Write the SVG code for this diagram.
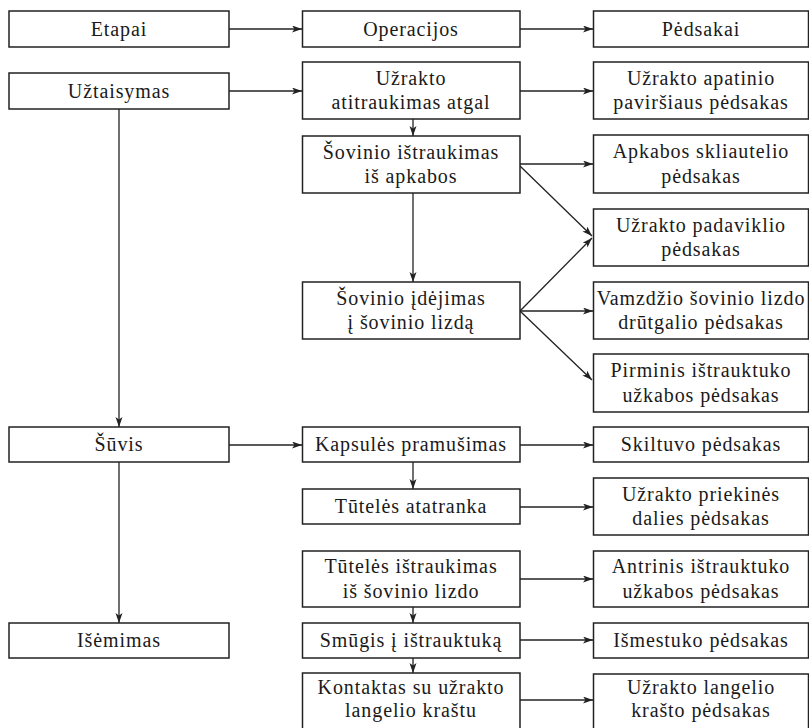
<svg xmlns="http://www.w3.org/2000/svg" width="809" height="728" viewBox="0 0 809 728">
<style>
.b rect{fill:#fff;stroke:#222;stroke-width:1.5}
.b text{font-family:'Liberation Serif','DejaVu Serif',serif;font-size:20px;fill:#1a1a1a;text-anchor:middle;letter-spacing:0.9px}
.c line{stroke:#222;stroke-width:1.3;marker-end:url(#ah)}
</style>
<defs>
<marker id="ah" markerUnits="userSpaceOnUse" markerWidth="11" markerHeight="8" refX="10" refY="3.5" orient="auto">
<path d="M0,0 L10,3.5 L0,7 L2.5,3.5 z" fill="#222"/>
</marker>
</defs>
<rect width="809" height="728" fill="#fff"/>
<g class="c" id="connectors">
<line x1="229" y1="29" x2="302" y2="29"/>
<line x1="520" y1="29" x2="593" y2="29"/>
<line x1="229" y1="91" x2="302" y2="91"/>
<line x1="520" y1="91" x2="593" y2="91"/>
<line x1="413" y1="119" x2="413" y2="136"/>
<line x1="520" y1="164" x2="593" y2="164"/>
<line x1="520" y1="166" x2="592" y2="236"/>
<line x1="413" y1="193" x2="413" y2="282"/>
<line x1="520" y1="311" x2="592" y2="238"/>
<line x1="520" y1="311" x2="593" y2="311"/>
<line x1="520" y1="311" x2="592" y2="380"/>
<line x1="119" y1="109" x2="119" y2="427"/>
<line x1="229" y1="445" x2="302" y2="445"/>
<line x1="520" y1="445" x2="593" y2="445"/>
<line x1="413" y1="462" x2="413" y2="489"/>
<line x1="520" y1="507" x2="593" y2="507"/>
<line x1="520" y1="579" x2="593" y2="579"/>
<line x1="413" y1="607" x2="413" y2="623"/>
<line x1="520" y1="640" x2="593" y2="640"/>
<line x1="413" y1="658" x2="413" y2="673"/>
<line x1="520" y1="700" x2="593" y2="700"/>
<line x1="119" y1="462" x2="119" y2="623"/>
</g>
<g class="b" id="etapai"><rect x="9" y="11" width="220" height="36"/><text x="119" y="35.5">Etapai</text></g>
<g class="b" id="operacijos"><rect x="302.5" y="11" width="217.5" height="36"/><text x="411" y="35.5">Operacijos</text></g>
<g class="b" id="pedsakai"><rect x="593.5" y="11" width="215" height="36"/><text x="701" y="35.5">Pėdsakai</text></g>
<g class="b" id="uztaisymas"><rect x="9" y="73" width="220" height="36"/><text x="119" y="97.5">Užtaisymas</text></g>
<g class="b" id="uzrakto-atitraukimas"><rect x="302.5" y="62" width="217.5" height="57"/><text x="411" y="84.5">Užrakto</text><text x="411" y="109">atitraukimas atgal</text></g>
<g class="b" id="apatinio"><rect x="593.5" y="62" width="215" height="57"/><text x="701" y="84.5">Užrakto apatinio</text><text x="701" y="109">paviršiaus pėdsakas</text></g>
<g class="b" id="sovinio-istraukimas"><rect x="302.5" y="136" width="217.5" height="57"/><text x="411" y="158.5">Šovinio ištraukimas</text><text x="411" y="183">iš apkabos</text></g>
<g class="b" id="apkabos"><rect x="593.5" y="135" width="215" height="58"/><text x="701" y="158">Apkabos skliautelio</text><text x="701" y="182.5">pėdsakas</text></g>
<g class="b" id="padaviklio"><rect x="593.5" y="209" width="215" height="57"/><text x="701" y="231.5">Užrakto padaviklio</text><text x="701" y="256">pėdsakas</text></g>
<g class="b" id="idejimas"><rect x="302.5" y="282" width="217.5" height="57"/><text x="411" y="304.5">Šovinio įdėjimas</text><text x="411" y="329">į šovinio lizdą</text></g>
<g class="b" id="vamzdzio"><rect x="593.5" y="282" width="215" height="57"/><text x="701" y="304.5">Vamzdžio šovinio lizdo</text><text x="701" y="329">drūtgalio pėdsakas</text></g>
<g class="b" id="pirminis"><rect x="593.5" y="354" width="215" height="58"/><text x="701" y="377">Pirminis ištrauktuko</text><text x="701" y="401.5">užkabos pėdsakas</text></g>
<g class="b" id="suvis"><rect x="9" y="427" width="220" height="35"/><text x="119" y="451">Šūvis</text></g>
<g class="b" id="kapsules"><rect x="302.5" y="427" width="217.5" height="35"/><text x="411" y="451">Kapsulės pramušimas</text></g>
<g class="b" id="skiltuvo"><rect x="593.5" y="427" width="215" height="35"/><text x="701" y="451">Skiltuvo pėdsakas</text></g>
<g class="b" id="atatranka"><rect x="302.5" y="489" width="217.5" height="35"/><text x="411" y="513">Tūtelės atatranka</text></g>
<g class="b" id="priekines"><rect x="593.5" y="478" width="215" height="57"/><text x="701" y="500.5">Užrakto priekinės</text><text x="701" y="525">dalies pėdsakas</text></g>
<g class="b" id="tuteles-istraukimas"><rect x="302.5" y="551" width="217.5" height="56"/><text x="411" y="573">Tūtelės ištraukimas</text><text x="411" y="597.5">iš šovinio lizdo</text></g>
<g class="b" id="antrinis"><rect x="593.5" y="551" width="215" height="56"/><text x="701" y="573">Antrinis ištrauktuko</text><text x="701" y="597.5">užkabos pėdsakas</text></g>
<g class="b" id="isemimas"><rect x="9" y="623" width="220" height="35"/><text x="119" y="647">Išėmimas</text></g>
<g class="b" id="smugis"><rect x="302.5" y="623" width="217.5" height="35"/><text x="411" y="647">Smūgis į ištrauktuką</text></g>
<g class="b" id="ismestuko"><rect x="593.5" y="623" width="215" height="35"/><text x="701" y="647">Išmestuko pėdsakas</text></g>
<g class="b" id="kontaktas"><rect x="302.5" y="673" width="217.5" height="60"/><text x="411" y="694">Kontaktas su užrakto</text><text x="411" y="717">langelio kraštu</text></g>
<g class="b" id="langelio"><rect x="593.5" y="674" width="215" height="60"/><text x="701" y="694">Užrakto langelio</text><text x="701" y="717">krašto pėdsakas</text></g>
</svg>
